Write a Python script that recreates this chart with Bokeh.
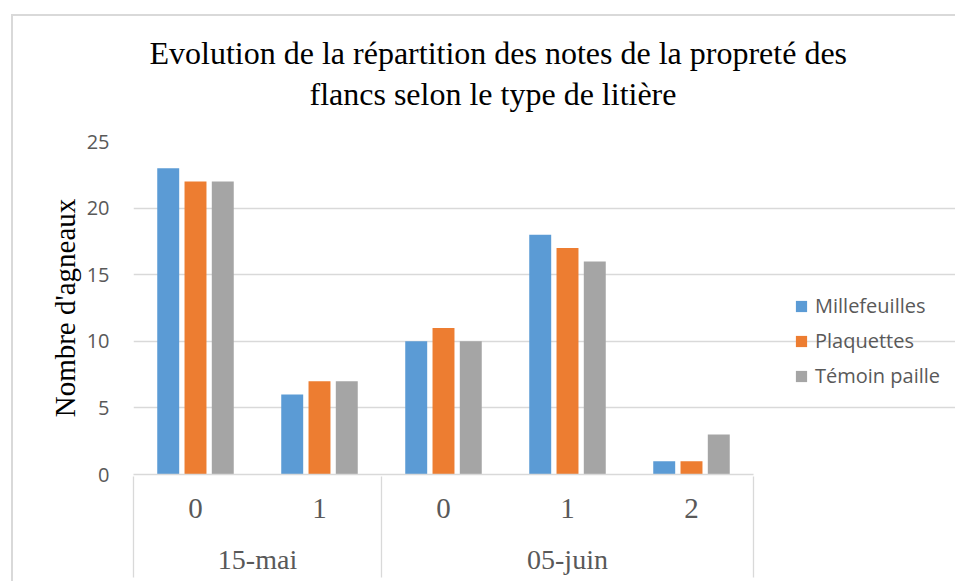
from bokeh.plotting import figure
from bokeh.models import (Range1d, LinearAxis, FixedTicker, Title, Legend, LegendItem,
                          ColumnDataSource, Grid)
from bokeh.transform import dodge
from bokeh.embed import file_html
from bokeh.resources import INLINE

# ---- data ----
notes = ["0", "1", "0", "1", "2"]
dates = ["15-mai", "05-juin"]
group_sizes = [2, 3]
series = ["Millefeuilles", "Plaquettes", "Témoin paille"]
millefeuilles = [23, 6, 10, 18, 1]
plaquettes = [22, 7, 11, 17, 1]
temoin_paille = [22, 7, 10, 16, 3]
y_ticks = [0, 5, 10, 15, 20, 25]
title_lines = ["Evolution de la répartition des notes de la propreté des",
               "flancs selon le type de litière"]
y_title = "Nombre d'agneaux"

colors = ["#5B9BD5", "#ED7D31", "#A5A5A5"]
SERIF = "Liberation Serif"
SANS = "Open Sans"
GRAY_TXT = "#595959"
LINE = "#D9D9D9"

n = len(notes)
W, H = 944, 567
BL, BR, BT, BB = 120, 2, 125, 109
plot_w = 620                       # pixels used by the categories
frame_w = W - BL - BR
x_end = n * frame_w / plot_w       # extra room on the right for the legend

xc = [i + 0.5 for i in range(n)]
src = ColumnDataSource(dict(x=xc, s0=millefeuilles, s1=plaquettes, s2=temoin_paille))

p = figure(width=W, height=H, x_range=Range1d(0, x_end), y_range=Range1d(0, 25),
           output_backend="svg", toolbar_location=None, title=None,
           x_axis_type=None, y_axis_type=None,
           min_border_left=BL, min_border_right=BR, min_border_top=BT, min_border_bottom=BB,
           outline_line_color=None, background_fill_color="white", border_fill_color="white")
p.margin = (14, 0, 0, 11)
p.styles = {"border-top": "2px solid #D9D9D9", "border-left": "2px solid #D9D9D9"}

# y axis + grid
yaxis = LinearAxis(ticker=FixedTicker(ticks=y_ticks, minor_ticks=[]))
yaxis.axis_line_color = None
yaxis.major_tick_line_color = None
yaxis.minor_tick_line_color = None
yaxis.major_label_text_font = SANS
yaxis.major_label_text_font_size = "20px"
yaxis.major_label_text_color = GRAY_TXT
yaxis.major_label_standoff = 18
yaxis.axis_label = y_title
yaxis.axis_label_text_font = SERIF
yaxis.axis_label_text_font_size = "29px"
yaxis.axis_label_text_font_style = "normal"
yaxis.axis_label_text_color = "#000000"
yaxis.axis_label_standoff = 3
p.add_layout(yaxis, "left")
p.add_layout(Grid(dimension=1, ticker=yaxis.ticker, grid_line_color=LINE, grid_line_width=1.3,
                  bounds=(0, n)))

# bars
offs = [-0.22, 0.0, 0.22]
items = []
for k, (name, col) in enumerate(zip(series, colors)):
    r = p.vbar(x=dodge("x", offs[k]), top="s%d" % k, width=0.177, bottom=0, source=src,
               fill_color=col, line_color=None)
    items.append(LegendItem(label=name, renderers=[r]))

# x axis: notes row
ax_notes = LinearAxis(ticker=FixedTicker(ticks=xc, minor_ticks=[]), bounds=(0, n))
ax_notes.major_label_overrides = {v: t for v, t in zip(xc, notes)}
ax_notes.axis_line_color = LINE
ax_notes.axis_line_width = 1.3
ax_notes.major_tick_line_color = None
ax_notes.minor_tick_line_color = None
ax_notes.major_label_text_font = SERIF
ax_notes.major_label_text_font_size = "29px"
ax_notes.major_label_text_color = GRAY_TXT
ax_notes.major_label_standoff = 18
p.add_layout(ax_notes, "below")

# x axis: dates row
bounds = [0]
for s in group_sizes:
    bounds.append(bounds[-1] + s)
gc = [(bounds[i] + bounds[i + 1]) / 2 for i in range(len(group_sizes))]
ax_dates = LinearAxis(ticker=FixedTicker(ticks=gc, minor_ticks=[]))
ax_dates.major_label_overrides = {v: t for v, t in zip(gc, dates)}
ax_dates.axis_line_color = None
ax_dates.major_tick_line_color = None
ax_dates.minor_tick_line_color = None
ax_dates.major_label_text_font = SERIF
ax_dates.major_label_text_font_size = "28px"
ax_dates.major_label_text_color = GRAY_TXT
ax_dates.major_label_standoff = 17
p.add_layout(ax_dates, "below")

# separators between groups
ax_sep = LinearAxis(ticker=FixedTicker(ticks=bounds, minor_ticks=[]))
ax_sep.major_label_overrides = {v: "" for v in bounds}
ax_sep.axis_line_color = None
ax_sep.major_tick_line_color = LINE
ax_sep.major_tick_line_width = 1.3
ax_sep.major_tick_in = 101
ax_sep.major_tick_out = 0
ax_sep.major_label_standoff = 0
ax_sep.major_label_text_font_size = "1px"
p.add_layout(ax_sep, "below")

# titles (first added is closest to the frame)
spacer = Title(text=" ", text_font_size="1px", standoff=27)
t2 = Title(text=title_lines[1], align="left", offset=176, text_font=SERIF,
           text_font_size="32px", text_font_style="normal", text_color="#000000", standoff=0)
t1 = Title(text=title_lines[0], align="left", offset=16, text_font=SERIF,
           text_font_size="32px", text_font_style="normal", text_color="#000000", standoff=5)
p.add_layout(spacer, "above")
p.add_layout(t2, "above")
p.add_layout(t1, "above")

legend = Legend(items=items, location=(661, 85), orientation="vertical",
                label_text_font=SANS, label_text_font_size="20px", label_text_color=GRAY_TXT,
                glyph_width=14, glyph_height=14, label_standoff=7, spacing=8,
                padding=0, margin=0, border_line_color=None, background_fill_alpha=0)
p.add_layout(legend, "center")

open("out.html", "w").write(file_html(p, INLINE))
